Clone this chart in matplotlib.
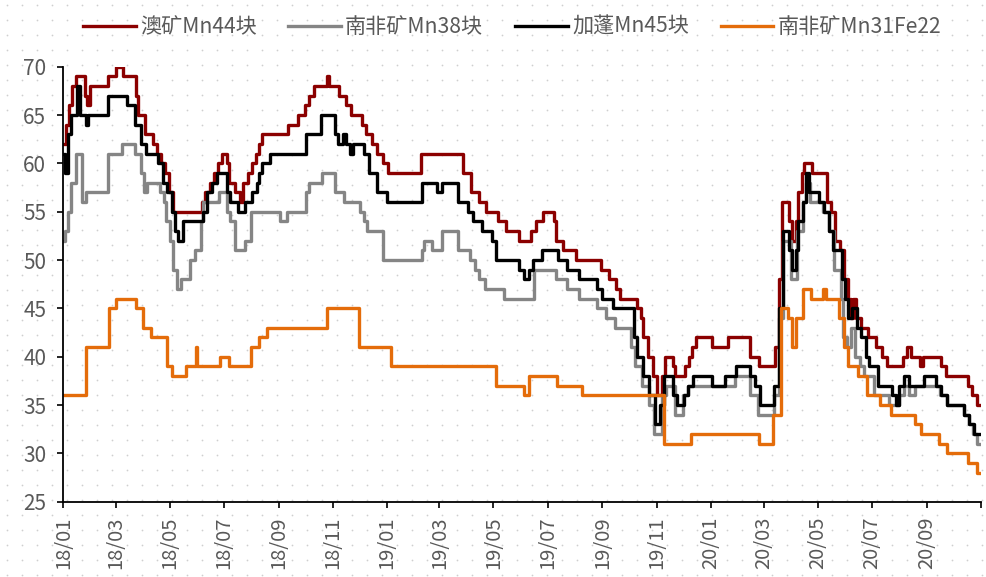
import matplotlib
matplotlib.use("Agg")
import matplotlib.pyplot as plt
import numpy as np
import pandas as pd

plt.rcParams['font.family'] = ['Noto Sans CJK SC', 'DejaVu Sans']

# 澳矿Mn44块 (change points, step data)
au_dates = ['2018-01-01', '2018-01-04', '2018-01-07', '2018-01-11', '2018-01-15', '2018-01-25', '2018-01-27',
            '2018-01-31', '2018-02-20', '2018-03-01', '2018-03-09', '2018-03-24', '2018-03-26', '2018-04-03',
            '2018-04-12', '2018-04-17', '2018-04-21', '2018-04-26', '2018-04-30', '2018-05-05', '2018-06-06',
            '2018-06-10', '2018-06-15', '2018-06-20', '2018-06-24', '2018-06-29', '2018-07-04', '2018-07-07',
            '2018-07-14', '2018-07-19', '2018-07-23', '2018-07-28', '2018-08-02', '2018-08-06', '2018-08-09',
            '2018-08-13', '2018-09-11', '2018-09-22', '2018-09-30', '2018-10-05', '2018-10-11', '2018-10-25',
            '2018-10-28', '2018-11-08', '2018-11-16', '2018-11-21', '2018-12-04', '2018-12-08', '2018-12-15',
            '2018-12-21', '2018-12-27', '2019-01-02', '2019-02-08', '2019-03-28', '2019-04-06', '2019-04-15',
            '2019-04-23', '2019-05-06', '2019-05-15', '2019-05-30', '2019-06-12', '2019-06-18', '2019-06-26',
            '2019-07-08', '2019-07-11', '2019-07-18', '2019-08-02', '2019-08-30', '2019-09-08', '2019-09-16',
            '2019-09-21', '2019-10-10', '2019-10-14', '2019-10-17', '2019-10-22', '2019-10-28', '2019-11-02',
            '2019-11-07', '2019-11-10', '2019-11-19', '2019-11-22', '2019-12-03', '2019-12-08', '2019-12-11',
            '2019-12-16', '2020-01-03', '2020-01-21', '2020-02-14', '2020-02-25', '2020-03-14', '2020-03-18',
            '2020-03-22', '2020-03-29', '2020-04-02', '2020-04-06', '2020-04-09', '2020-04-13', '2020-04-15',
            '2020-04-24', '2020-05-11', '2020-05-16', '2020-05-20', '2020-05-26', '2020-05-31', '2020-06-04',
            '2020-06-07', '2020-06-10', '2020-06-13', '2020-06-19', '2020-06-27', '2020-07-05', '2020-07-12',
            '2020-07-18', '2020-08-05', '2020-08-09', '2020-08-14', '2020-08-24', '2020-08-28', '2020-09-17',
            '2020-09-23', '2020-10-17', '2020-10-22', '2020-10-27', '2020-10-31']
au_vals = [62, 64, 66, 68, 69, 67, 66,
           68, 69, 70, 69, 67, 65, 63,
           62, 61, 60, 59, 57, 55, 56,
           57, 58, 59, 60, 61, 60, 58,
           57, 56, 58, 59, 60, 61, 62,
           63, 64, 65, 66, 67, 68, 69,
           68, 67, 66, 65, 64, 63, 62,
           61, 60, 59, 61, 59, 57, 56,
           55, 54, 53, 52, 53, 54, 55,
           54, 52, 51, 50, 49, 48, 47,
           46, 45, 44, 42, 40, 38, 36,
           38, 40, 39, 38, 39, 40, 41,
           42, 41, 42, 40, 39, 41, 48,
           56, 54, 52, 54, 57, 59, 60,
           59, 56, 55, 52, 51, 48, 46,
           44, 46, 44, 43, 42, 41, 40,
           39, 40, 41, 40, 39, 40, 39,
           38, 37, 36, 35, 35]

# 南非矿Mn38块
sa38_dates = ['2018-01-01', '2018-01-03', '2018-01-06', '2018-01-09', '2018-01-15', '2018-01-22', '2018-01-26',
              '2018-02-20', '2018-03-08', '2018-03-23', '2018-03-29', '2018-04-02', '2018-04-05', '2018-04-20',
              '2018-04-24', '2018-04-27', '2018-05-01', '2018-05-05', '2018-05-09', '2018-05-13', '2018-05-24',
              '2018-05-29', '2018-06-05', '2018-06-07', '2018-06-25', '2018-07-04', '2018-07-08', '2018-07-13',
              '2018-07-25', '2018-07-31', '2018-09-02', '2018-09-10', '2018-10-01', '2018-10-05', '2018-10-20',
              '2018-11-03', '2018-11-13', '2018-12-02', '2018-12-06', '2018-12-09', '2018-12-27', '2019-02-09',
              '2019-02-12', '2019-02-21', '2019-03-04', '2019-03-22', '2019-04-04', '2019-04-10', '2019-04-15',
              '2019-04-21', '2019-05-13', '2019-06-16', '2019-07-11', '2019-07-23', '2019-08-06', '2019-08-26',
              '2019-09-05', '2019-09-15', '2019-10-03', '2019-10-08', '2019-10-16', '2019-10-23', '2019-10-29',
              '2019-11-07', '2019-11-12', '2019-11-22', '2019-12-01', '2019-12-07', '2020-01-29', '2020-02-14',
              '2020-02-24', '2020-03-12', '2020-03-18', '2020-03-23', '2020-04-01', '2020-04-08', '2020-04-14',
              '2020-04-18', '2020-04-22', '2020-05-07', '2020-05-14', '2020-05-19', '2020-05-27', '2020-05-29',
              '2020-06-03', '2020-06-07', '2020-06-12', '2020-06-17', '2020-06-22', '2020-07-03', '2020-07-20',
              '2020-08-01', '2020-08-06', '2020-08-12', '2020-08-19', '2020-09-16', '2020-09-24', '2020-10-13',
              '2020-10-18', '2020-10-23', '2020-10-27', '2020-10-31']
sa38_vals = [52, 53, 55, 58, 61, 56, 57,
             61, 62, 61, 59, 57, 58, 57,
             56, 54, 52, 49, 47, 48, 50,
             51, 54, 56, 57, 55, 54, 51,
             52, 55, 54, 55, 57, 58, 59,
             57, 56, 55, 54, 53, 50, 51,
             52, 51, 53, 51, 50, 49, 48,
             47, 46, 49, 48, 47, 46, 45,
             44, 43, 41, 39, 37, 35, 32,
             36, 37, 34, 36, 37, 38, 36,
             34, 36, 44, 52, 48, 53, 56,
             58, 56, 55, 53, 49, 46, 42,
             41, 43, 40, 39, 38, 36, 35,
             36, 37, 36, 37, 36, 35, 34,
             33, 32, 31, 31]

# 加蓬Mn45块
gb_dates = ['2018-01-01', '2018-01-03', '2018-01-06', '2018-01-10', '2018-01-16', '2018-01-20', '2018-01-26',
            '2018-01-29', '2018-02-20', '2018-03-14', '2018-03-23', '2018-03-29', '2018-04-04', '2018-04-18',
            '2018-04-23', '2018-04-28', '2018-05-03', '2018-05-07', '2018-05-10', '2018-05-16', '2018-06-07',
            '2018-06-12', '2018-06-18', '2018-06-23', '2018-07-04', '2018-07-08', '2018-07-17', '2018-07-25',
            '2018-08-02', '2018-08-07', '2018-08-10', '2018-08-13', '2018-08-22', '2018-10-01', '2018-10-18',
            '2018-11-03', '2018-11-07', '2018-11-12', '2018-11-16', '2018-11-20', '2018-11-24', '2018-12-06',
            '2018-12-12', '2018-12-21', '2019-01-01', '2019-02-09', '2019-02-26', '2019-03-04', '2019-03-22',
            '2019-04-02', '2019-04-08', '2019-04-18', '2019-04-29', '2019-05-04', '2019-05-30', '2019-06-05',
            '2019-06-10', '2019-06-15', '2019-06-25', '2019-07-13', '2019-07-23', '2019-08-06', '2019-08-26',
            '2019-08-31', '2019-09-13', '2019-10-06', '2019-10-10', '2019-10-17', '2019-10-24', '2019-10-30',
            '2019-11-05', '2019-11-09', '2019-11-20', '2019-11-24', '2019-12-02', '2019-12-07', '2019-12-12',
            '2020-01-03', '2020-01-17', '2020-01-30', '2020-02-14', '2020-02-20', '2020-02-26', '2020-03-12',
            '2020-03-18', '2020-03-23', '2020-03-29', '2020-04-02', '2020-04-06', '2020-04-09', '2020-04-14',
            '2020-04-18', '2020-04-21', '2020-05-02', '2020-05-08', '2020-05-14', '2020-05-18', '2020-05-28',
            '2020-06-01', '2020-06-04', '2020-06-09', '2020-06-14', '2020-06-19', '2020-06-24', '2020-06-28',
            '2020-07-08', '2020-07-24', '2020-07-28', '2020-08-01', '2020-08-06', '2020-08-12', '2020-08-29',
            '2020-09-11', '2020-09-17', '2020-09-24', '2020-10-13', '2020-10-18', '2020-10-24', '2020-10-31']
gb_vals = [61, 59, 63, 65, 68, 65, 64,
           65, 67, 66, 64, 62, 61, 60,
           58, 57, 55, 53, 52, 54, 55,
           57, 58, 59, 57, 56, 55, 56,
           57, 58, 59, 60, 61, 63, 65,
           63, 62, 63, 62, 61, 62, 61,
           59, 57, 56, 58, 57, 58, 56,
           55, 54, 53, 52, 50, 49, 48,
           49, 50, 51, 50, 49, 48, 47,
           46, 45, 42, 40, 38, 36, 33,
           35, 38, 36, 35, 36, 37, 38,
           37, 38, 39, 38, 37, 35, 37,
           45, 53, 51, 49, 51, 54, 56,
           59, 57, 56, 55, 53, 51, 48,
           46, 44, 45, 43, 42, 40, 39,
           37, 36, 35, 37, 38, 37, 38,
           37, 36, 35, 34, 33, 32, 32]

# 南非矿Mn31Fe22
sa31_dates = ['2018-01-01', '2018-01-26', '2018-02-21', '2018-03-01', '2018-03-24', '2018-04-01', '2018-04-10',
              '2018-04-28', '2018-05-03', '2018-05-19', '2018-05-30', '2018-06-01', '2018-06-27', '2018-07-07',
              '2018-08-01', '2018-08-10', '2018-08-18', '2018-10-25', '2018-11-30', '2019-01-05', '2019-05-04',
              '2019-06-04', '2019-06-10', '2019-07-12', '2019-08-09', '2019-11-09', '2019-12-10', '2020-02-25',
              '2020-03-11', '2020-03-20', '2020-03-28', '2020-04-02', '2020-04-06', '2020-04-14', '2020-04-23',
              '2020-05-07', '2020-05-10', '2020-05-25', '2020-05-31', '2020-06-04', '2020-06-15', '2020-06-25',
              '2020-07-10', '2020-07-23', '2020-08-19', '2020-08-25', '2020-09-15', '2020-09-24', '2020-10-17',
              '2020-10-27', '2020-10-31']
sa31_vals = [36, 41, 45, 46, 45, 43, 42,
             39, 38, 39, 41, 39, 40, 39,
             41, 42, 43, 45, 41, 39, 37,
             36, 38, 37, 36, 31, 32, 31,
             34, 45, 44, 41, 44, 47, 46,
             47, 46, 44, 41, 39, 38, 36,
             35, 34, 33, 32, 31, 30, 29,
             28, 28]

series = [
    ('澳矿Mn44块', au_dates, au_vals, '#8B0000'),
    ('南非矿Mn38块', sa38_dates, sa38_vals, '#858585'),
    ('加蓬Mn45块', gb_dates, gb_vals, '#000000'),
    ('南非矿Mn31Fe22', sa31_dates, sa31_vals, '#E46C0A'),
]

W, H = 986, 577
fig = plt.figure(figsize=(W / 100, H / 100), dpi=100)

# dotted background texture
bg = fig.add_axes([0, 0, 1, 1], zorder=0)
gx, gy = np.meshgrid(np.arange(7, W, 15), np.arange(5, H, 15))
bg.scatter(gx.ravel(), gy.ravel(), s=1.6, color='#CFCFCF', linewidths=0)
bg.set_xlim(0, W)
bg.set_ylim(H, 0)
bg.axis('off')

left, right, top, bottom = 63.5, 981, 66.7, 501.7
ax = fig.add_axes([left / W, 1 - bottom / H, (right - left) / W, (bottom - top) / H], zorder=1)
ax.set_facecolor('none')

for name, d, v, c in series:
    ax.plot(pd.to_datetime(d), v, color=c, lw=2.4, drawstyle='steps-post', label=name)

ax.set_ylim(25, 70)
ax.set_yticks(np.arange(25, 71, 5))
ax.set_xlim(pd.Timestamp('2018-01-01'), pd.Timestamp('2020-11-01'))
ticks = pd.date_range('2018-01-01', '2020-11-01', freq='2MS')
ax.set_xticks(ticks)
ax.set_xticklabels([t.strftime('%y/%m') for t in ticks[:-1]] + [''], rotation=90)

for s in ['top', 'right']:
    ax.spines[s].set_visible(False)
for s in ['left', 'bottom']:
    ax.spines[s].set_linewidth(1.3)
    ax.spines[s].set_color('black')

ax.tick_params(axis='y', length=4.5, width=1.2, pad=8, labelsize=15, labelcolor='#595959')
ax.tick_params(axis='x', length=4.5, width=1.2, pad=6, labelsize=14.5, labelcolor='#595959')

fig.legend(loc='center', bbox_to_anchor=(512 / W, 1 - 27 / H), ncol=4, frameon=False,
           fontsize=15.2, labelcolor='#595959', handlelength=2.5, handletextpad=0.2,
           columnspacing=1.5, borderaxespad=0)

fig.savefig('out.png', dpi=100)
